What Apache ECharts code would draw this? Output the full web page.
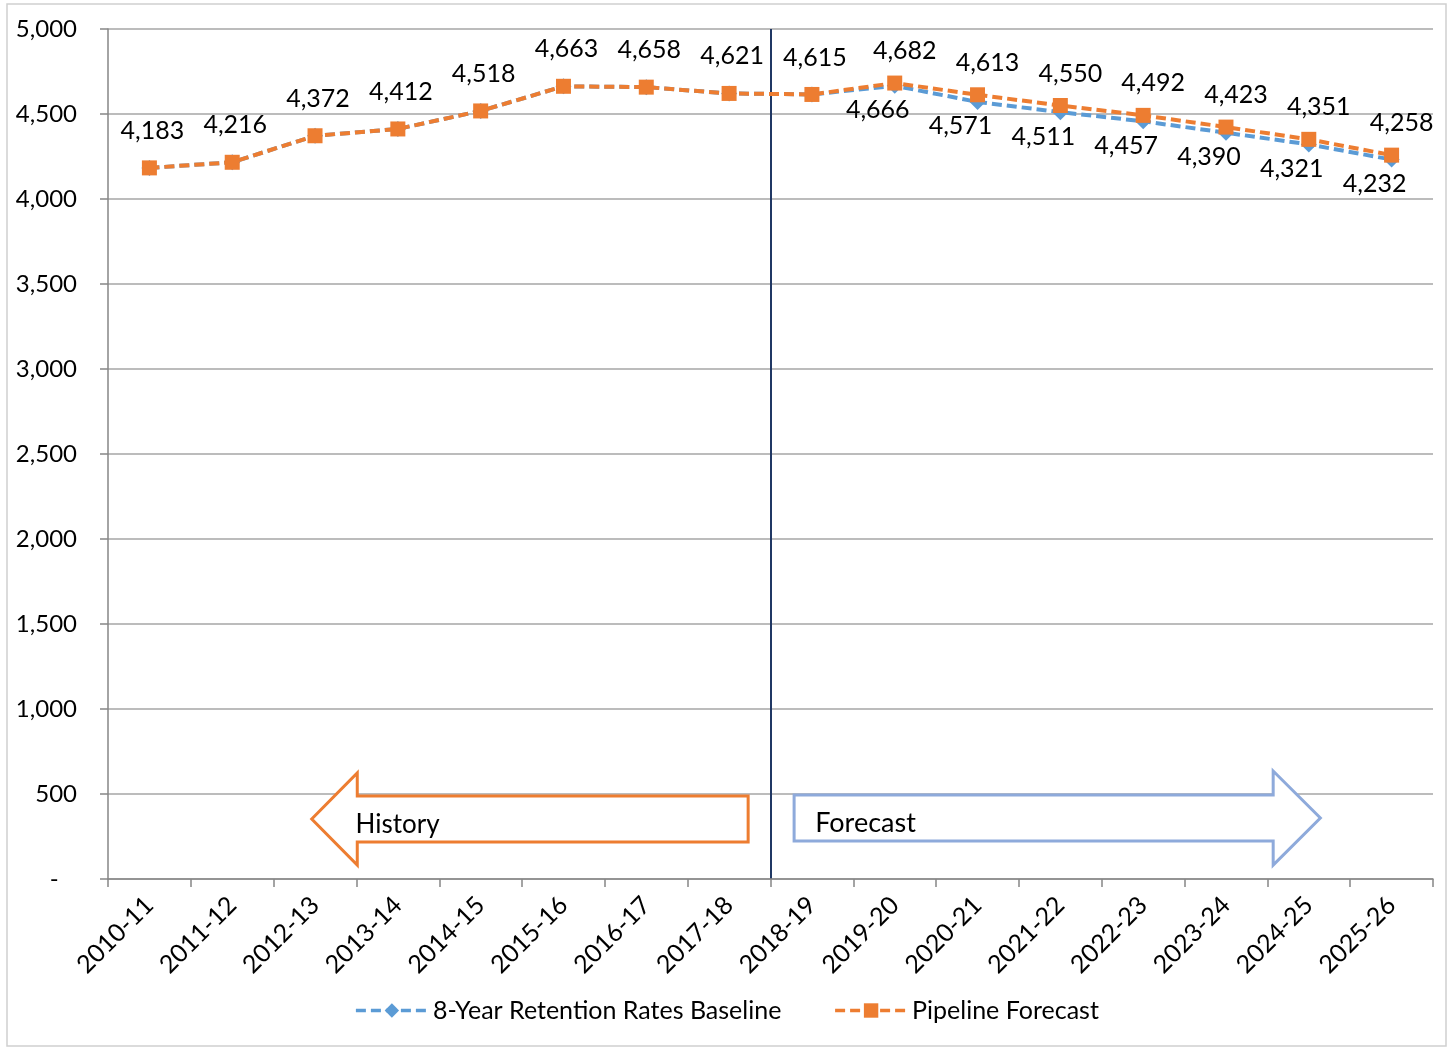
<!DOCTYPE html>
<html>
<head>
<meta charset="utf-8">
<script src="https://cdn.jsdelivr.net/npm/echarts@6/dist/echarts.min.js"></script>
<style>
html,body{margin:0;padding:0;background:#fff;}
#chart{width:1453px;height:1048px;}
</style>
</head>
<body>
<div id="chart"></div>
<script>
const categories = ['2010-11','2011-12','2012-13','2013-14','2014-15','2015-16','2016-17','2017-18','2018-19','2019-20','2020-21','2021-22','2022-23','2023-24','2024-25','2025-26'];
const baselineValues = [4183,4216,4372,4412,4518,4663,4658,4621,4615,4666,4571,4511,4457,4390,4321,4232];
const pipelineValues = [4183,4216,4372,4412,4518,4663,4658,4621,4615,4682,4613,4550,4492,4423,4351,4258];
const yTicks = [0,500,1000,1500,2000,2500,3000,3500,4000,4500,5000];
const seriesNames = ['8-Year Retention Rates Baseline','Pipeline Forecast'];
const forecastStart = 8; // index of first forecast category (2018-19)

const FONT = 'Lato';
const BLUE = '#5B9BD5';
const ORANGE = '#ED7D31';

function fmt(v){ return v === 0 ? '-   ' : v.toLocaleString('en-US'); }

const baselineData = baselineValues.map((v,i)=>({
  value: v,
  label: i > forecastStart ? {show:true, position:'bottom', distance:4, offset:[-17,0]} : {show:false}
}));
const pipelineData = pipelineValues.map((v,i)=>({
  value: v,
  label: {show:true, position:'top', distance: i > forecastStart ? 12 : 17, offset: i > forecastStart ? [10,0] : [3,0]}
}));

const chart = echarts.init(document.getElementById('chart'), null, {renderer:'canvas'});
const labelStyle = {fontFamily: FONT, fontSize: 25, color: '#000', formatter: p => fmt(p.value)};

chart.setOption({
  animation: false,
  backgroundColor: '#fff',
  grid: {left: 108, right: 20, top: 29, bottom: 169, containLabel: false},
  legend: {
    bottom: 20, left: 'center',
    itemWidth: 72, itemHeight: 18, itemGap: 52,
    textStyle: {fontFamily: FONT, fontSize: 25, color: '#000'},
    lineStyle: {width: 3.5},
    data: seriesNames
  },
  xAxis: {
    type: 'category', data: categories, boundaryGap: true,
    axisLine: {lineStyle: {color: '#868686', width: 1.5}},
    axisTick: {show: true, length: 8, alignWithLabel: false, lineStyle: {color: '#868686', width: 1.5}},
    axisLabel: {rotate: 45, fontFamily: FONT, fontSize: 25, color: '#000', margin: 22, interval: 0},
    splitLine: {show: true, showMinLine: false, showMaxLine: false,
      interval: (idx) => idx === 0 || idx === forecastStart,
      lineStyle: {color: '#203864', width: 2}}
  },
  yAxis: {
    type: 'value', min: 0, max: 5000, interval: 500,
    axisLine: {show: true, lineStyle: {color: '#868686', width: 1.5}},
    axisTick: {show: true, length: 8, lineStyle: {color: '#868686', width: 1.5}},
    axisLabel: {fontFamily: FONT, fontSize: 24, color: '#000', margin: 31, formatter: v => fmt(v)},
    splitLine: {show: true, lineStyle: {color: '#a6a6a6', width: 1.5}}
  },
  series: [
    {
      name: seriesNames[0], type: 'line', data: baselineData,
      symbol: 'diamond', symbolSize: 16,
      itemStyle: {color: BLUE},
      lineStyle: {color: BLUE, width: 4, type: [10,5]},
      label: labelStyle, z: 2
    },
    {
      name: seriesNames[1], type: 'line', data: pipelineData,
      symbol: 'rect', symbolSize: 15,
      itemStyle: {color: ORANGE},
      lineStyle: {color: ORANGE, width: 4, type: [10,5]},
      label: labelStyle, z: 3
    }
  ]
});

// Annotation arrows positioned through the axes
function X(f){ const a = chart.convertToPixel({xAxisIndex:0}, 0), b = chart.convertToPixel({xAxisIndex:0}, 1); return a + f*(b-a); }
function Y(v){ return chart.convertToPixel({yAxisIndex:0}, v); }

function arrowLeft(tipF, baseF, endF, headTop, headBot, bodyTop, bodyBot, mid){
  return [[X(tipF),Y(mid)],[X(baseF),Y(headTop)],[X(baseF),Y(bodyTop)],[X(endF),Y(bodyTop)],[X(endF),Y(bodyBot)],[X(baseF),Y(bodyBot)],[X(baseF),Y(headBot)]];
}
function arrowRight(startF, baseF, tipF, headTop, headBot, bodyTop, bodyBot, mid){
  return [[X(startF),Y(bodyTop)],[X(baseF),Y(bodyTop)],[X(baseF),Y(headTop)],[X(tipF),Y(mid)],[X(baseF),Y(headBot)],[X(baseF),Y(bodyBot)],[X(startF),Y(bodyBot)]];
}

const hist = arrowLeft(1.96, 2.51, 7.23, 624, 82, 488, 218, 353);
const fore = arrowRight(7.785, 13.57, 14.14, 635, 82, 494, 224, 359);

chart.setOption({
  graphic: [
    {type:'rect', shape:{x:7, y:4, width:1439, height:1042}, style:{fill:'none', stroke:'#d0d0d0', lineWidth:1.5}, z:0, silent:true},
    {type:'polygon', shape:{points: hist}, style:{fill:'#fff', stroke:ORANGE, lineWidth:3}, z:10},
    {type:'text', x: X(2.49), y: Y(318), style:{text:'History', fontFamily:FONT, fontSize:26, fill:'#000', verticalAlign:'middle', textAlign:'left'}, z:11},
    {type:'polygon', shape:{points: fore}, style:{fill:'#fff', stroke:'#8EAADB', lineWidth:3}, z:10},
    {type:'text', x: X(8.04), y: Y(325), style:{text:'Forecast', fontFamily:FONT, fontSize:27, fill:'#000', verticalAlign:'middle', textAlign:'left'}, z:11}
  ]
});
</script>
</body>
</html>
